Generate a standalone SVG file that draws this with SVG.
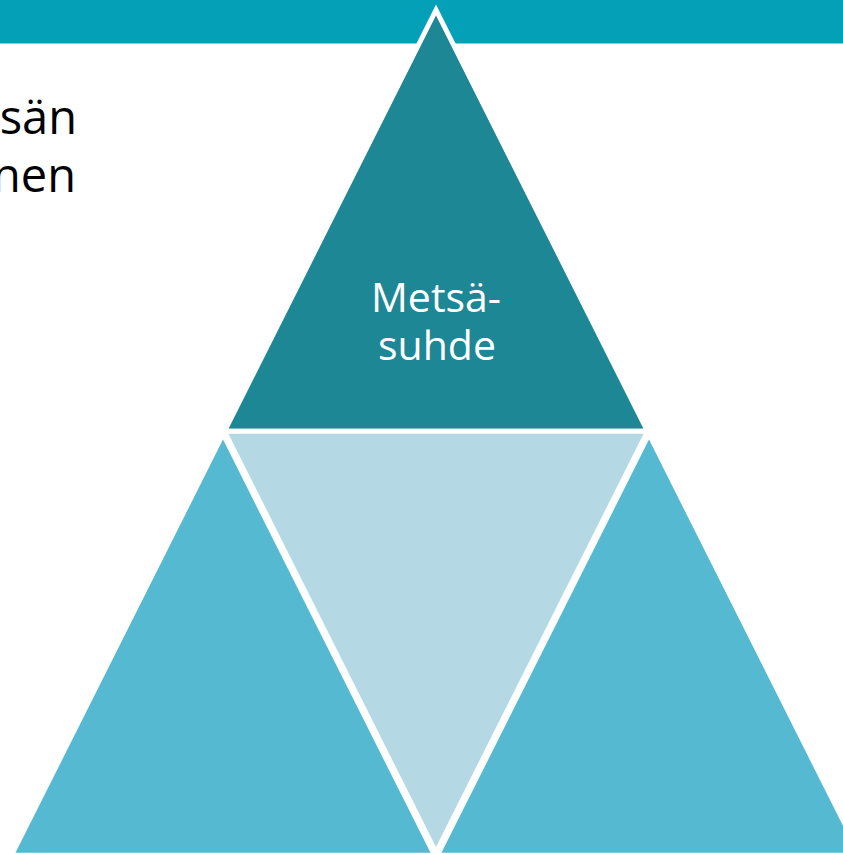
<svg xmlns="http://www.w3.org/2000/svg" width="843" height="854" viewBox="0 0 843 854">
  <style>
    .tri { stroke: #FFFFFF; stroke-width: 5; stroke-linejoin: miter; }
    .top { fill: #1D8795; }
    .mid { fill: #B5D9E4; }
    .side { fill: #54B9D1; }
    .lbl { font-family: "Open Sans", "Noto Sans", "DejaVu Sans", sans-serif; fill: #FFFFFF; font-size: 41px; text-anchor: middle; }
    .title { font-family: "Open Sans", "Noto Sans", "DejaVu Sans", sans-serif; fill: #000000; font-size: 47px; text-anchor: end; }
  </style>
  <rect x="0" y="0" width="843" height="854" fill="#FFFFFF"/>
  <g id="header">
    <rect x="0" y="0" width="843" height="43.5" fill="#03A0B8"/>
  </g>
  <g id="title-text">
    <text class="title" x="77" y="134">sän</text>
    <text class="title" x="76" y="192">nen</text>
  </g>
  <g id="connectors"></g>
  <g id="node-top">
    <polygon class="tri top" points="436,10 224.4,431.3 647.6,431.3"/>
    <text class="lbl" x="436" y="312">Metsä-</text>
    <text class="lbl" x="437" y="360">suhde</text>
  </g>
  <g id="node-middle">
    <polygon class="tri mid" points="224.4,431.3 647.6,431.3 436,852.6"/>
  </g>
  <g id="node-bottom-left">
    <polygon class="tri side" points="223,434 11.4,855.3 434.6,855.3"/>
  </g>
  <g id="node-bottom-right">
    <polygon class="tri side" points="649,434 437.4,855.3 860.6,855.3"/>
  </g>
</svg>
